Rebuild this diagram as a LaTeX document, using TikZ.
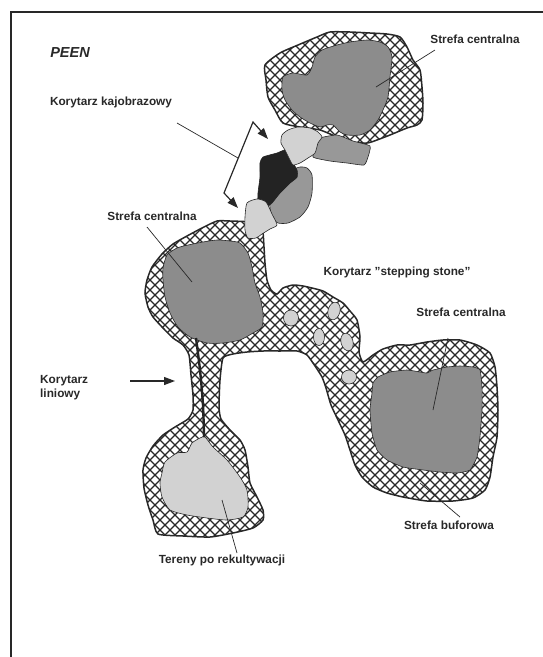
\documentclass[tikz,border=0pt]{standalone}
\usepackage{fontspec}
\setmainfont{Liberation Sans}
\usepackage{tikz}
\usetikzlibrary{arrows.meta}
\definecolor{ink}{RGB}{40,40,40}
\definecolor{core}{RGB}{140,140,140}
\definecolor{light}{RGB}{210,210,210}
\definecolor{mid}{RGB}{152,152,152}
\definecolor{dark}{RGB}{35,35,35}
\tikzset{
  bufline/.style={draw=ink,line width=1.5pt},
  hatchln/.style={draw=ink,line width=1.2pt},
  zone/.style={draw=ink,line width=0.6pt,fill=core},
  rec/.style ={draw=ink,line width=0.6pt,fill=light},
  patch/.style={draw=ink,line width=0.6pt,fill=mid},
  blk/.style ={draw=dark,line width=0.6pt,fill=dark},
  lbl/.style ={font=\bfseries\fontsize{11.8}{14}\selectfont,text=ink,inner sep=1pt},
  lead/.style={draw=ink,line width=0.7pt},
  ar/.style  ={-{Triangle[length=11pt,width=8pt]},line width=1.2pt,draw=ink},
  frm/.style ={draw=ink,line width=1.6pt},
}
\newcommand\bufTop{plot[smooth cycle,tension=0.4] coordinates {
    (265,65) (280,53) (298,45) (317,37) (330,32) (350,32) (370,33) (387,34)
    (400,37) (407,47) (413,60) (420,70) (422,87) (423,103) (422,120) (417,125)
    (407,128) (390,135) (377,140) (367,143) (350,142) (337,137) (320,130)
    (300,127) (283,123) (275,110) (268,97) (266,80)}}
\newcommand\bufMain{plot[smooth cycle,tension=0.35] coordinates {
    (250,222) (262,227) (264,247) (265,263) (267,280) (271,290) (277,294)
    (283,288) (293,285) (303,286) (312,288) (323,291) (333,297) (343,303)
    (350,311) (357,320) (360,337) (359,352) (363,362) (373,355) (383,349)
    (397,345) (410,345) (427,342) (443,340) (460,340) (477,345) (490,353)
    (495,367) (497,387) (498,410) (497,437) (493,457) (490,477) (485,490)
    (473,498) (453,501) (427,501) (403,497) (387,493) (373,487) (362,477)
    (355,465) (350,450) (345,435) (338,420) (331,405) (326,388) (322,377)
    (315,366) (307,355) (297,351) (280,351) (263,351) (247,352) (233,354)
    (223,358) (220,380) (219,407) (221,419) (230,430) (240,440) (245,450)
    (248,467) (250,483) (257,497) (263,510) (263,520) (253,528) (233,533)
    (210,537) (183,536) (158,534) (153,520) (148,505) (144,488) (143,470)
    (146,458) (153,446) (163,435) (175,427) (188,419) (193,410) (193,395)
    (191,375) (189,355) (183,345) (173,338) (163,328) (153,317) (148,307)
    (145,293) (147,280) (152,267) (162,254) (173,244) (187,236) (202,228)
    (217,221) (230,221)}}

\begin{document}
\begin{tikzpicture}[x=1pt,y=-1pt]
  \useasboundingbox (0,0) rectangle (543,657);
  % frame
  \draw[frm] (11,657) -- (11,12) -- (543,12);

  % buffer zones (cross hatch)
  \begin{scope}
    \clip \bufTop \bufMain;
    \foreach \k in {-440,-430,...,1080} {
      \draw[hatchln] (\k,0) -- ++(560,560);
      \draw[hatchln] (\k,0) -- ++(-560,560);
    }
  \end{scope}
  \draw[bufline] \bufTop;
  \draw[bufline] \bufMain;

  % central zones
  \path[zone] plot[smooth cycle,tension=0.4] coordinates {
    (283,77) (293,73) (307,75) (312,67) (315,57) (322,50) (337,45) (350,42)
    (367,40) (380,42) (388,47) (392,57) (390,77) (388,97) (383,110) (378,120)
    (370,130) (360,135) (347,135) (340,132) (333,125) (327,125) (320,127)
    (310,123) (300,117) (292,110) (285,100) (282,90)};
  \path[zone] plot[smooth cycle,tension=0.4] coordinates {
    (163,268) (167,255) (177,248) (188,245) (203,242) (217,240) (230,241)
    (240,243) (248,253) (252,267) (255,283) (260,297) (263,313) (262,327)
    (253,333) (240,340) (223,343) (207,343) (190,337) (178,327) (170,313)
    (165,297) (163,280)};
  \path[zone] plot[smooth cycle,tension=0.3] coordinates {
    (373,383) (378,377) (390,372) (407,370) (420,372) (427,373) (433,370)
    (447,367) (460,366) (473,367) (480,370) (482,387) (482,410) (480,437)
    (477,457) (470,470) (457,473) (440,472) (423,470) (403,467) (387,460)
    (377,450) (372,433) (370,410) (372,393)};
  \path[rec] plot[smooth cycle,tension=0.4] coordinates {
    (162,473) (165,462) (177,453) (187,452) (192,443) (200,438) (205,437)
    (213,447) (227,460) (240,477) (247,490) (248,507) (243,517) (227,520)
    (207,518) (187,515) (170,510) (162,497) (160,483)};

  % stepping stones
  \path[rec] (291,318) ellipse[x radius=7.5,y radius=8];
  \path[rec,rotate around={-15:(334,311)}] (334,311) ellipse[x radius=6,y radius=9];
  \path[rec] (319,337) ellipse[x radius=5.5,y radius=8.5];
  \path[rec,rotate around={15:(347,342)}] (347,342) ellipse[x radius=6,y radius=9];
  \path[rec] (349,377) ellipse[x radius=7.5,y radius=7];

  % landscape corridor
  \path[patch] plot[smooth cycle,tension=0.4] coordinates {
    (293,170) (300,167) (307,168) (312,175) (312,193) (308,207) (300,217)
    (288,223) (278,223) (272,217) (270,203) (280,193) (290,183) (297,177)};
  \path[blk] plot[smooth cycle,tension=0.3] coordinates {
    (263,157) (277,153) (285,150) (289,156) (297,170) (297,177) (290,183)
    (280,193) (272,203) (265,208) (258,207) (258,193) (260,177) (260,163)};
  \path[patch] plot[smooth cycle,tension=0.3] coordinates {
    (320,138) (337,135) (353,141) (370,146) (368,157) (364,165) (347,163)
    (330,161) (313,157) (317,145)};
  \path[rec] plot[smooth cycle,tension=0.4] coordinates {
    (282,135) (288,130) (298,127) (310,128) (318,132) (322,137) (318,143)
    (315,153) (308,158) (300,163) (293,165) (290,160) (285,150) (281,143)};
  \path[rec] plot[smooth cycle,tension=0.4] coordinates {
    (247,203) (257,199) (266,202) (272,214) (277,225) (270,229) (262,234)
    (256,238) (248,238) (245,230) (245,217)};

  % linear corridor
  \draw[dark,line width=2.4pt] plot[smooth,tension=0.5] coordinates {
    (196,338) (200,370) (203,405) (204,437)};

  % labels
  \node[font=\bfseries\itshape\fontsize{14.5}{16}\selectfont,text=ink] (peen) at (70,53) {PEEN};
  \node[lbl] (sc1) at (475,39) {Strefa centralna};
  \node[lbl] (kk) at (111,102) {Korytarz kajobrazowy};
  \node[lbl] (sc2) at (152,216) {Strefa centralna};
  \node[lbl] (kss) at (397,272) {Korytarz \symbol{34}stepping stone\symbol{34}};
  \node[lbl] (sc3) at (461,312) {Strefa centralna};
  \node[lbl,align=left,anchor=west] (kl) at (39,388) {Korytarz\\liniowy};
  \node[lbl] (sb) at (449,525) {Strefa buforowa};
  \node[lbl] (tr) at (222,560) {Tereny po rekultywacji};

  % leader points
  \coordinate (p1) at (376,87);
  \coordinate (p2) at (192,282);
  \coordinate (p3) at (433,410);
  \coordinate (p4) at (420,483);
  \coordinate (p5) at (222,500);
  \coordinate (kc1) at (253,122);
  \coordinate (kc2) at (224,193);
  \coordinate (kt1) at (268,139);
  \coordinate (kt2) at (238,208);
  \coordinate (km) at (238,158);
  \coordinate (la) at (130,381);
  \coordinate (lb) at (175,381);

  \draw[lead] (435,50) -- (p1);
  \draw[lead] (147,227) -- (p2);
  \draw[lead] (448,338) -- (p3);
  \draw[lead] (460,517) -- (p4);
  \draw[lead] (237,553) -- (p5);
  \draw[lead] (177,123) -- (km);
  \draw[{Triangle[length=11pt,width=8pt]}-{Triangle[length=11pt,width=8pt]},line width=1.2pt,draw=ink]
    (kt1) -- (kc1) -- (kc2) -- (kt2);
  \draw[ar] (la) -- (lb);
\end{tikzpicture}
\end{document}
